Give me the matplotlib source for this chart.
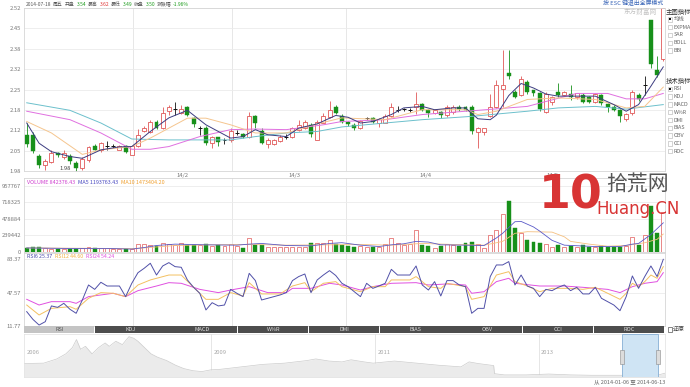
import numpy as np
import matplotlib
matplotlib.use("Agg")
import matplotlib.pyplot as plt
from matplotlib.patches import Rectangle

plt.rcParams['font.family'] = ['Noto Sans CJK SC', 'DejaVu Sans']

W, H = 690, 387

# ---------------- data ----------------
opens = [2.10, 2.10, 2.03, 2.00, 2.01, 2.04, 2.027, 2.03, 2.005, 1.99,
         2.015, 2.062, 2.051, 2.064, 2.062, 2.051, 2.062, 2.034, 2.062, 2.113,
         2.11, 2.143, 2.121, 2.18, 2.187, 2.173, 2.193, 2.154, 2.124, 2.124,
         2.073, 2.091, 2.084, 2.082, 2.107, 2.102, 2.092, 2.163, 2.113, 2.069,
         2.069, 2.08, 2.094, 2.091, 2.117, 2.124, 2.132, 2.084, 2.14, 2.158,
         2.193, 2.163, 2.143, 2.132, 2.121, 2.154, 2.154, 2.14, 2.14, 2.163,
         2.182, 2.184, 2.182, 2.191, 2.202, 2.182, 2.171, 2.177, 2.165, 2.177,
         2.193, 2.193, 2.193, 2.11, 2.11, 2.163, 2.193, 2.251, 2.305, 2.243,
         2.233, 2.274, 2.248, 2.237, 2.177, 2.209, 2.243, 2.232, 2.235, 2.224,
         2.232, 2.224, 2.209, 2.232, 2.202, 2.193, 2.182, 2.151, 2.171, 2.233,
         2.265, 2.48, 2.314, 2.35]
highs = [2.14, 2.11, 2.035, 2.02, 2.05, 2.043, 2.05, 2.037, 2.013, 2.027,
         2.062, 2.07, 2.077, 2.079, 2.07, 2.065, 2.065, 2.064, 2.12, 2.13,
         2.15, 2.148, 2.193, 2.199, 2.21, 2.20, 2.196, 2.16, 2.13, 2.13,
         2.095, 2.094, 2.09, 2.124, 2.115, 2.106, 2.174, 2.165, 2.124, 2.09,
         2.085, 2.10, 2.102, 2.125, 2.15, 2.148, 2.138, 2.149, 2.172, 2.213,
         2.20, 2.17, 2.146, 2.138, 2.148, 2.16, 2.16, 2.155, 2.17, 2.205,
         2.195, 2.19, 2.19, 2.242, 2.205, 2.185, 2.187, 2.18, 2.198, 2.20,
         2.197, 2.196, 2.20, 2.125, 2.124, 2.236, 2.28, 2.382, 2.382, 2.25,
         2.296, 2.28, 2.25, 2.243, 2.243, 2.23, 2.273, 2.246, 2.265, 2.24,
         2.238, 2.228, 2.238, 2.236, 2.205, 2.197, 2.187, 2.172, 2.248, 2.238,
         2.295, 2.48, 2.36, 2.52]
lows = [2.06, 2.04, 1.99, 1.983, 2.005, 2.025, 2.02, 2.003, 1.98, 1.982,
        2.01, 2.048, 2.044, 2.05, 2.055, 2.05, 2.04, 2.032, 2.058, 2.11,
        2.107, 2.12, 2.118, 2.165, 2.165, 2.168, 2.162, 2.125, 2.10, 2.065,
        2.055, 2.062, 2.07, 2.076, 2.10, 2.09, 2.088, 2.124, 2.07, 2.055,
        2.065, 2.075, 2.087, 2.088, 2.113, 2.12, 2.094, 2.082, 2.138, 2.155,
        2.17, 2.14, 2.13, 2.115, 2.118, 2.148, 2.14, 2.125, 2.138, 2.16,
        2.175, 2.178, 2.175, 2.17, 2.178, 2.16, 2.168, 2.155, 2.16, 2.17,
        2.18, 2.178, 2.104, 2.055, 2.10, 2.158, 2.19, 2.193, 2.285, 2.222,
        2.23, 2.236, 2.228, 2.18, 2.173, 2.20, 2.226, 2.228, 2.215, 2.218,
        2.205, 2.205, 2.205, 2.20, 2.177, 2.178, 2.143, 2.145, 2.165, 2.212,
        2.233, 2.32, 2.293, 2.345]
closes = [2.07, 2.045, 2.00, 2.013, 2.041, 2.032, 2.04, 2.013, 1.99, 2.02,
          2.06, 2.051, 2.073, 2.064, 2.062, 2.062, 2.044, 2.062, 2.099, 2.124,
          2.143, 2.124, 2.173, 2.193, 2.187, 2.184, 2.165, 2.135, 2.124, 2.073,
          2.091, 2.076, 2.084, 2.113, 2.107, 2.094, 2.163, 2.14, 2.073, 2.082,
          2.082, 2.094, 2.094, 2.121, 2.132, 2.143, 2.102, 2.143, 2.163, 2.183,
          2.173, 2.143, 2.135, 2.121, 2.145, 2.154, 2.143, 2.151, 2.163, 2.193,
          2.182, 2.184, 2.182, 2.202, 2.182, 2.173, 2.182, 2.165, 2.193, 2.193,
          2.184, 2.183, 2.113, 2.121, 2.121, 2.193, 2.265, 2.265, 2.294, 2.225,
          2.285, 2.243, 2.237, 2.187, 2.235, 2.224, 2.232, 2.243, 2.224, 2.237,
          2.209, 2.21, 2.235, 2.204, 2.193, 2.182, 2.162, 2.168, 2.243, 2.217,
          2.265, 2.335, 2.297, 2.52]
volumes = [58000, 63000, 63000, 48000, 44000, 39000, 44000, 44000, 44000, 48000,
           63000, 48000, 58000, 53000, 39000, 34000, 34000, 34000, 112000, 107000,
           102000, 78000, 131000, 116000, 97000, 121000, 102000, 92000, 97000, 112000,
           87000, 97000, 82000, 112000, 87000, 53000, 199000, 102000, 102000, 73000,
           73000, 63000, 63000, 73000, 73000, 73000, 121000, 126000, 126000, 175000,
           107000, 97000, 83000, 73000, 83000, 73000, 63000, 73000, 112000, 194000,
           121000, 97000, 112000, 315000, 97000, 83000, 48000, 83000, 106000, 97000,
           83000, 121000, 145000, 112000, 48000, 243000, 315000, 542000, 742000, 339000,
           276000, 170000, 145000, 131000, 112000, 73000, 97000, 73000, 83000, 73000,
           97000, 73000, 73000, 83000, 73000, 73000, 63000, 83000, 208000, 97000,
           243000, 665000, 276000, 582000]

# moving averages, read at the trading days where they could be measured
ma5_days = [1, 3, 5, 8, 10, 13, 16, 18, 21, 24, 27, 30, 34, 36, 38, 40, 43, 45, 48, 51,
            53, 55, 57, 60, 62, 65, 67, 70, 72, 74, 76, 77, 79, 81, 83, 85, 87, 93, 96, 98,
            100, 102, 104]
ma5 = [2.139, 2.072, 2.044, 2.028, 2.022, 2.05, 2.06, 2.061, 2.111, 2.156, 2.181, 2.133, 2.089,
       2.094, 2.117, 2.10, 2.094, 2.122, 2.136, 2.164, 2.158, 2.139, 2.144, 2.167, 2.189, 2.194,
       2.183, 2.189, 2.189, 2.153, 2.15, 2.165, 2.23, 2.27, 2.255, 2.235, 2.228, 2.228, 2.20,
       2.178, 2.20, 2.261, 2.325]
ma10_days = [1, 5, 10, 13, 18, 21, 27, 30, 34, 38, 43, 48, 52, 59, 65, 72, 74, 77, 82, 87,
             93, 98, 101, 104]
ma10 = [2.144, 2.106, 2.035, 2.05, 2.061, 2.089, 2.155, 2.155, 2.133, 2.106, 2.106, 2.136,
        2.156, 2.15, 2.183, 2.183, 2.167, 2.178, 2.217, 2.222, 2.217, 2.189, 2.194, 2.258]
ma20_days = [1, 8, 13, 18, 21, 24, 29, 34, 38, 43, 49, 52, 59, 65, 72, 74, 82, 90, 95, 98,
             101, 104]
ma20 = [2.178, 2.15, 2.106, 2.052, 2.052, 2.061, 2.094, 2.117, 2.119, 2.117, 2.133, 2.144,
        2.15, 2.167, 2.178, 2.181, 2.194, 2.237, 2.237, 2.219, 2.219, 2.237]
ma60_days = [1, 8, 13, 18, 24, 29, 34, 38, 43, 48, 52, 59, 65, 73, 82, 87, 93, 98, 104]
ma60 = [2.206, 2.181, 2.139, 2.086, 2.083, 2.083, 2.083, 2.094, 2.106, 2.111, 2.126, 2.139,
        2.15, 2.161, 2.178, 2.189, 2.194, 2.185, 2.20]

vma5_days = [1, 5, 10, 15, 18, 20, 22, 25, 30, 35, 37, 39, 43, 47, 50, 52, 55, 58, 60, 62,
             64, 66, 68, 72, 75, 77, 78, 80, 81, 83, 84, 86, 88, 93, 97, 99, 100, 102, 104]
vma5 = [55000, 50000, 45000, 45000, 38000, 60000, 90000, 110000, 100000, 95000,
        110000, 120000, 90000, 85000, 120000, 131000, 95000, 75000, 100000, 115000,
        150000, 140000, 100000, 95000, 90000, 200000, 267000, 436000, 440000, 360000,
        300000, 165000, 95000, 75000, 75000, 110000, 120000, 250000, 420000]
vma10_days = [1, 10, 18, 20, 25, 30, 37, 43, 50, 55, 60, 65, 70, 75, 77, 78, 80, 82, 86, 88,
              89, 92, 95, 98, 101, 103, 104]
vma10 = [55000, 50000, 45000, 55000, 90000, 100000, 105000, 95000, 100000, 105000,
         95000, 120000, 105000, 95000, 130000, 150000, 267000, 291000, 285000, 216000,
         150000, 110000, 80000, 90000, 130000, 180000, 257000]

rsi6 = [27.2, 18.9, 12.8, 16.4, 33.3, 31.8, 36.1, 29.7, 25.4, 39.7,
        55.8, 51.1, 58.7, 54.7, 54.7, 54.7, 43.3, 57.6, 69.0, 73.7,
        79.1, 66.5, 76.2, 79.8, 75.5, 74.8, 61.2, 53.3, 46.9, 29.0,
        36.8, 33.3, 34.3, 51.1, 46.9, 43.3, 68.3, 60.5, 39.7, 41.5,
        43.3, 45.1, 47.6, 60.5, 64.8, 67.6, 47.6, 61.2, 66.5, 71.2,
        66.0, 57.6, 54.0, 48.6, 43.3, 57.6, 52.2, 54.7, 57.6, 72.6,
        66.5, 66.5, 66.5, 76.2, 55.8, 50.4, 59.4, 44.0, 60.5, 60.5,
        55.8, 54.0, 25.4, 30.7, 30.7, 64.8, 77.3, 77.3, 80.9, 55.8,
        66.5, 54.7, 52.2, 43.3, 51.1, 49.7, 53.3, 55.8, 49.7, 53.3,
        46.2, 46.2, 53.3, 41.5, 37.9, 34.3, 28.2, 43.3, 65.5, 52.2,
        64.8, 76.2, 64.8, 83.37]
rsi12_days = [1, 3, 5, 8, 9, 11, 13, 15, 17, 19, 21, 24, 26, 28, 30, 32, 34, 36, 37, 39,
              42, 44, 46, 47, 49, 51, 52, 55, 57, 59, 60, 63, 64, 66, 68, 69, 72, 73, 75, 77,
              79, 80, 82, 84, 86, 89, 91, 93, 95, 97, 98, 99, 100, 101, 102, 103, 104]
rsi12 = [34.3, 23.6, 30.7, 32.5, 29.7, 41.5, 47.6, 46.9, 43.3, 55.8,
         61.2, 66.5, 66.5, 53.3, 40.4, 40.4, 47.6, 44.0, 58.3, 46.2,
         46.2, 54.7, 58.3, 48.6, 57.6, 59.4, 54.0, 48.6, 54.0, 54.0,
         61.2, 61.2, 64.8, 54.0, 52.2, 57.6, 54.0, 40.4, 43.3, 66.5,
         70.1, 59.4, 54.7, 48.6, 52.2, 52.2, 51.1, 53.3, 46.9, 40.4,
         46.9, 57.6, 54.0, 59.4, 66.5, 63.0, 75.5]
rsi24_days = [1, 3, 5, 8, 9, 11, 15, 17, 19, 22, 24, 26, 29, 32, 34, 37, 40, 43, 44, 47,
              50, 52, 55, 57, 60, 64, 66, 69, 72, 73, 75, 77, 79, 80, 84, 88, 91, 95, 97, 99,
              101, 103, 104]
rsi24 = [40.4, 34.3, 37.9, 37.9, 36.1, 43.3, 46.9, 43.3, 49.7, 54.7,
         58.3, 57.6, 51.1, 47.6, 50.4, 54.0, 47.6, 47.6, 52.2, 52.2,
         57.6, 55.8, 50.4, 54.0, 57.6, 58.3, 55.8, 56.9, 55.8, 46.9,
         48.6, 59.4, 63.0, 57.6, 54.7, 54.7, 53.3, 51.1, 47.6, 54.0,
         57.6, 59.4, 69.0]

# long history in the navigator strip
nav_years = [2006.72, 2006.96, 2007.12, 2007.23, 2007.31, 2007.36, 2007.41, 2007.47, 2007.55, 2007.63,
             2007.71, 2007.76, 2007.84, 2007.92, 2008.00, 2008.06, 2008.11, 2008.19, 2008.27, 2008.35,
             2008.46, 2008.57, 2008.67, 2008.78, 2008.89, 2009.00, 2009.10, 2009.37, 2009.63, 2009.90,
             2010.17, 2010.28, 2010.44, 2010.60, 2010.71, 2010.87, 2010.98, 2011.24, 2011.51, 2011.78,
             2012.05, 2012.15, 2012.26, 2012.42, 2012.45, 2012.46, 2012.58, 2012.85, 2013.12, 2013.39,
             2013.65, 2013.92, 2014.19, 2014.46, 2014.54]
nav_close = [14.1, 14.5, 18.9, 24.2, 30.8, 39.2, 29.0, 32.1, 24.2, 30.8,
             35.6, 32.1, 37.4, 33.9, 42.2, 40.5, 37.4, 30.8, 24.2, 20.7,
             17.2, 12.3, 8.8, 6.6, 5.7, 7.5, 7.9, 10.6, 13.2, 14.5,
             17.2, 18.9, 16.7, 15.8, 18.0, 15.8, 14.5, 16.7, 14.5, 12.3,
             10.6, 15.8, 14.1, 12.3, 12.0, 3.5, 2.2, 2.2, 3.1, 2.2,
             1.8, 1.8, 1.8, 2.2, 4.0]
nav_year_labels = ['2006', '2009', '2011', '2013']
sel_start, sel_end = 2014.01, 2014.45

price_labels = ['1.98', '2.05', '2.12', '2.18', '2.25', '2.32', '2.38', '2.45', '2.52']
vol_ticks = [0, 239442, 478884, 718325, 957767]
rsi_ticks = [11.77, 47.57, 83.37]
month_days = [26.2, 44.4, 65.5, 86.0]
month_labels = ['14/2', '14/3', '14/4', '14/5']
grid_days = [18.2, 34.2, 52.7]

header_parts = [('2014-07-18', '#555555'), ('周五', '#555555'), ('开盘', '#555555'), ('3.54', '#1a9a1a'),
                ('最高', '#555555'), ('3.62', '#e03030'), ('最低', '#555555'), ('3.49', '#1a9a1a'),
                ('收盘', '#555555'), ('3.50', '#1a9a1a'), ('涨跌幅', '#555555'), ('-1.96%', '#1a9a1a')]
vol_legend = [('VOLUME 842376.43', '#d040d0'), ('MA5 1193763.43', '#4848c0'), ('MA10 1473404.20', '#f0a030')]
rsi_legend = [('RSI6 25.37', '#4848a8'), ('RSI12 44.60', '#f0b040'), ('RSI24 54.24', '#e050e0')]
tabs = ['RSI', 'KDJ', 'MACD', 'W%R', 'DMI', 'BIAS', 'OBV', 'CCI', 'ROC']
main_opts = ['均线', 'EXPMA', 'SAR', 'BOLL', 'BBI']
tech_opts = ['RSI', 'KDJ', 'MACD', 'W%R', 'DMI', 'BIAS', 'OBV', 'CCI', 'ROC']

# ---------------- figure ----------------
fig = plt.figure(figsize=(W / 100, H / 100), dpi=100)
fig.patch.set_facecolor('white')


def box(x0, y0, x1, y1):
    # pixel box (top-left origin) -> figure fraction rect
    return [x0 / W, 1 - y1 / H, (x1 - x0) / W, (y1 - y0) / H]


days = np.arange(1, len(closes) + 1)
x_lo, x_hi = 0.56, 104.28
RED = '#e05858'
GREEN = '#17901a'


def panel(rect, yticks, ylabels, ylim):
    ax = fig.add_axes(rect)
    ax.set_xlim(x_lo, x_hi)
    ax.set_ylim(*ylim)
    ax.set_yticks(yticks)
    ax.set_yticklabels(ylabels)
    ax.set_xticks([])
    ax.tick_params(axis='both', length=0, pad=2, labelsize=4.2, labelcolor='#777777')
    for s in ax.spines.values():
        s.set_color('#d6d6d6')
        s.set_linewidth(0.6)
    ax.grid(axis='y', color='#ebebeb', lw=0.6)
    for g in grid_days:
        ax.axvline(g, color='#e3e3e3', lw=0.6, zorder=0)
    ax.set_axisbelow(True)
    return ax


# main candlestick panel
ax = panel(box(24, 8, 665, 171), np.linspace(1.98, 2.52, 9), price_labels, (1.98, 2.52))
o, h, l, c = (np.array(a) for a in (opens, highs, lows, closes))
up, down, flat = c > o, c < o, c == o
bw = 0.64
top, bot = np.maximum(o, c), np.minimum(o, c)
ax.vlines(days[up], top[up], h[up], color=RED, lw=0.6)
ax.vlines(days[up], l[up], bot[up], color=RED, lw=0.6)
ax.vlines(days[down], l[down], h[down], color=GREEN, lw=0.6)
ax.vlines(days[flat], l[flat], h[flat], color='#111111', lw=0.6)
ax.bar(days[up], (c - o)[up], bottom=o[up], width=bw, facecolor='white', edgecolor=RED, lw=0.6)
ax.bar(days[down], (o - c)[down], bottom=c[down], width=bw, color=GREEN, edgecolor=GREEN, lw=0.3)
ax.hlines(c[flat], days[flat] - bw / 2, days[flat] + bw / 2, color='#111111', lw=0.7)
ax.plot(ma60_days, ma60, color='#6cc0cc', lw=0.7)
ax.plot(ma20_days, ma20, color='#e070e0', lw=0.7)
ax.plot(ma10_days, ma10, color='#f5c58e', lw=0.7)
ax.plot(ma5_days, ma5, color='#3c3c80', lw=0.7)
low_day = int(np.argmin(l[:20]))
ax.annotate('%.2f' % l[low_day], xy=(days[low_day], l[low_day]), xytext=(-4, 2),
            textcoords='offset points', ha='right', va='center', fontsize=4.2, color='#444444',
            arrowprops=dict(arrowstyle='-', lw=0.4, color='#444444'))
ax.set_xticks(month_days)
ax.set_xticklabels(month_labels)
ax.tick_params(axis='x', pad=1.2, labelsize=4.2, labelcolor='#777777')

# volume panel
av = panel(box(24, 178, 665, 251.7), vol_ticks, [str(v) for v in vol_ticks], (0, 1071700))
vol = np.array(volumes)
vup = c >= o
av.bar(days[vup], vol[vup], width=bw, facecolor='white', edgecolor=RED, lw=0.5)
av.bar(days[~vup], vol[~vup], width=bw, color=GREEN, edgecolor=GREEN, lw=0.3)
av.plot(vma10_days, vma10, color='#f5c080', lw=0.6)
av.plot(vma5_days, vma5, color='#5a5ac8', lw=0.6)

# RSI panel
ar = panel(box(24, 252.5, 665, 326), rsi_ticks, ['%.2f' % v for v in rsi_ticks], (11.77, 90.67))
ar.plot(rsi24_days, rsi24, color='#e050e0', lw=0.7)
ar.plot(rsi12_days, rsi12, color='#f3c060', lw=0.7)
ar.plot(days, rsi6, color='#5050a8', lw=0.7)

# navigator
an = fig.add_axes(box(24, 334, 665, 377))
an.set_xlim(2006.72, 2014.54)
an.set_ylim(0, 45)
an.fill_between(nav_years, nav_close, color='#ebebeb', lw=0)
an.plot(nav_years, nav_close, color='#cccccc', lw=0.5)
for lab in nav_year_labels[1:]:
    an.axvline(float(lab), color='#e2e2e2', lw=0.6, zorder=0)
for lab in nav_year_labels:
    an.text(max(float(lab), 2006.72) + 0.03, 26, lab, fontsize=4.2, color='#a8a8a8', va='center')
an.axvspan(sel_start, sel_end, facecolor='#cfe4f4', edgecolor='#86afd4', lw=0.6, zorder=3)
for xe in (sel_start, sel_end):
    an.add_patch(Rectangle((xe - 0.025, 14), 0.05, 14, facecolor='#dcdcdc', edgecolor='#8a8a8a',
                           lw=0.4, zorder=4))
an.set_xticks([])
an.set_yticks([])
for s in an.spines.values():
    s.set_color('#e0e0e0')
    s.set_linewidth(0.5)

# overlay in pixel units for the page furniture
ov = fig.add_axes([0, 0, 1, 1], zorder=10)
ov.set_xlim(0, W)
ov.set_ylim(H, 0)
ov.axis('off')
ov.patch.set_visible(False)


def chain(x, y, parts, size, gap=2.0):
    t = ov.text(x, y, parts[0][0], color=parts[0][1], fontsize=size, va='center', ha='left')
    for s, col in parts[1:]:
        t = ov.annotate(s, xy=(1, 0.5), xycoords=t, xytext=(gap, 0), textcoords='offset points',
                        color=col, fontsize=size, va='center', ha='left')


chain(26, 4, header_parts, 3.5, gap=1.3)
chain(27, 182, vol_legend, 3.9, gap=2.0)
chain(27, 256, rsi_legend, 3.8, gap=2.0)

ov.text(663, 3, '按 ESC 键退出全屏模式', fontsize=4.2, color='#3a66b8', ha='right', va='center')
ov.text(640, 11.5, '东方财富网', fontsize=4.8, color='#c2c2c2', ha='center', va='center')

# tab bar
tab_w = (665 - 24) / len(tabs)
for i, name in enumerate(tabs):
    x0 = 24 + i * tab_w
    sel = i == 0
    ov.add_patch(Rectangle((x0, 325.5), tab_w - 0.8, 7.5, facecolor='#c4c4c4' if sel else '#4d4d4d',
                           edgecolor='none'))
    ov.text(x0 + tab_w / 2, 329.3, name, fontsize=4.0, ha='center', va='center',
            color='#555555' if sel else '#dddddd')
ov.add_patch(Rectangle((667.5, 326.5), 4.5, 5, facecolor='white', edgecolor='#555555', lw=0.5))
ov.text(673, 329.3, '还原', fontsize=4.3, color='#444444', va='center')


# right option panel
def options(y0, title, items):
    ov.text(666, y0, title, fontsize=4.6, color='#333333', va='center')
    for k, name in enumerate(items):
        y = y0 + 7.8 * (k + 1)
        ov.add_patch(Rectangle((668, y - 2.2), 4.4, 4.4, facecolor='white', edgecolor='#b0b0b0', lw=0.4))
        if k == 0:
            ov.add_patch(Rectangle((669.2, y - 1.0), 2.0, 2.0, facecolor='#111111', edgecolor='none'))
        ov.text(674, y, name, fontsize=3.9, color='#666666', va='center')


options(11.5, '主图指标', main_opts)
options(81, '技术指标', tech_opts)

# watermark
ov.text(571, 196, '10', fontsize=33, color='#d83434', weight='bold', ha='center', va='center',
        family='DejaVu Sans')
ov.text(637, 184, '拾荒网', fontsize=15, color='#555555', ha='center', va='center')
ov.text(638, 209, 'Huang.CN', fontsize=12, color='#d83434', ha='center', va='center',
        family='DejaVu Sans')

ov.text(665, 383, '从 2014-01-06 至 2014-06-13', fontsize=4.0, color='#666666', ha='right', va='center')

fig.savefig('out.png', dpi=100, facecolor='white')
